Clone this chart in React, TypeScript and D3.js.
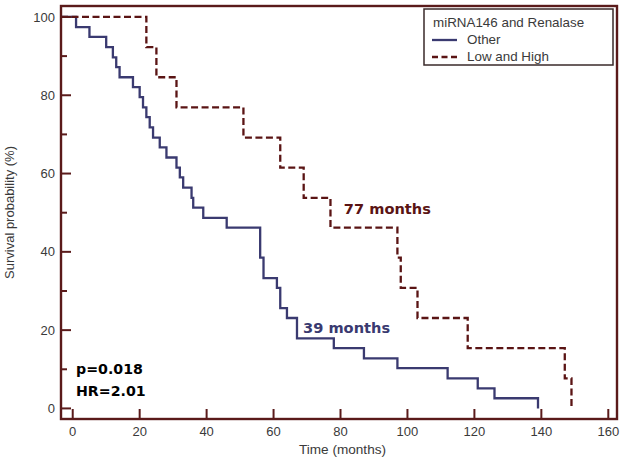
import React from 'react';
import * as d3 from 'd3';

// Kaplan-Meier steps: time of event (months) and survival (%) after it
const otherTimes = [0, 1, 5, 10, 12, 13, 14, 18, 20, 21, 22, 23, 24, 26, 28, 31, 32, 33, 35.5, 36, 39, 46, 56, 57, 61, 62, 64, 67, 78, 87, 97, 112, 121, 126, 139];
const otherSurv = [100, 97.4, 94.9, 92.3, 89.7, 87.2, 84.6, 82.1, 79.5, 76.9, 74.4, 71.8, 69.2, 66.7, 64.1, 61.5, 59.0, 56.4, 53.8, 51.3, 48.7, 46.2, 38.5, 33.3, 30.8, 25.6, 23.1, 17.9, 15.4, 12.8, 10.3, 7.7, 5.1, 2.6, 0];

const lowHighTimes = [0, 22, 25, 31, 51, 62, 69, 77, 97, 98, 103, 118, 147, 149];
const lowHighSurv = [100, 92.3, 84.6, 76.9, 69.2, 61.5, 53.8, 46.2, 38.5, 30.8, 23.1, 15.4, 7.7, 0];

const xTicks = [0, 20, 40, 60, 80, 100, 120, 140, 160];
const yTicks = [0, 20, 40, 60, 80, 100];
const yMinorTicks = [10, 30, 50, 70, 90];

const legendTitle = 'miRNA146 and Renalase';
const seriesNames = ['Other', 'Low and High'];

const App = () => {
  const width = 625;
  const height = 463;
  const margin = { top: 6, right: 8, bottom: 44, left: 61 };
  const font = 'Liberation Sans, Arial, sans-serif';
  const boldFont = 'DejaVu Sans, Verdana, sans-serif';
  const axisColor = '#5a1a1a';
  const blue = '#3a3a70';
  const maroon = '#5a1414';

  const xScale = d3.scaleLinear()
    .domain([-3.5, 162.6])
    .range([margin.left, width - margin.right]);

  const yScale = d3.scaleLinear()
    .domain([-2.7, 102.8])
    .range([height - margin.bottom, margin.top]);

  const x0 = xScale.domain()[0];

  const stepLine = d3.line<[number, number]>()
    .x(d => xScale(d[0]))
    .y(d => yScale(d[1]))
    .curve(d3.curveStepAfter);

  const otherPts: [number, number][] = [[x0, 100], ...otherTimes.map((t, i) => [t, otherSurv[i]] as [number, number])];
  const lowHighPts: [number, number][] = [[x0, 100], ...lowHighTimes.map((t, i) => [t, lowHighSurv[i]] as [number, number])];

  const plotBottom = height - margin.bottom;
  const legendX = 424;
  const legendY = 9;

  return (
    <svg width={width} height={height} style={{ position: 'absolute', left: 0, top: 0, background: '#fff' }}>
      <rect x={0} y={0} width={width} height={height} fill='#fff' />

      {/* curves */}
      <path d={stepLine(otherPts) || ''} fill='none' stroke={blue} strokeWidth={2.3} />
      <path d={stepLine(lowHighPts) || ''} fill='none' stroke={maroon} strokeWidth={2.3} strokeDasharray='7,3.5' />

      {/* frame */}
      <rect x={margin.left} y={margin.top} width={width - margin.left - margin.right} height={plotBottom - margin.top}
        fill='none' stroke={axisColor} strokeWidth={2.4} />

      {/* y ticks */}
      {yTicks.map(v => (
        <g key={'y' + v}>
          <line x1={margin.left} x2={margin.left + 10} y1={yScale(v)} y2={yScale(v)} stroke={axisColor} strokeWidth={2} />
          <text x={margin.left - 6} y={yScale(v)} dy='0.35em' textAnchor='end' fontFamily={font} fontSize={13} fill='#3a3a3a'>{v}</text>
        </g>
      ))}
      {yMinorTicks.map(v => (
        <line key={'ym' + v} x1={margin.left} x2={margin.left + 6} y1={yScale(v)} y2={yScale(v)} stroke={axisColor} strokeWidth={2} />
      ))}

      {/* x ticks */}
      {xTicks.map(v => (
        <g key={'x' + v}>
          <line x1={xScale(v)} x2={xScale(v)} y1={plotBottom} y2={plotBottom - 10} stroke={axisColor} strokeWidth={2} />
          <text x={xScale(v)} y={plotBottom + 17} textAnchor='middle' fontFamily={font} fontSize={13} fill='#3a3a3a'>{v}</text>
        </g>
      ))}

      {/* axis titles */}
      <text x={299} y={454} fontFamily={font} fontSize={12.5} textLength={87} lengthAdjust='spacingAndGlyphs' fill='#3a3a3a'>Time (months)</text>
      <text transform={`translate(14, ${(margin.top + plotBottom) / 2}) rotate(-90)`} textAnchor='middle'
        fontFamily={font} fontSize={13} fill='#3a3a3a'>Survival probability (%)</text>

      {/* annotations */}
      <text x={xScale(81)} y={yScale(49.7)} fontFamily={boldFont} fontSize={14.6} fontWeight='bold' fill={maroon}>77 months</text>
      <text x={xScale(68.8)} y={yScale(19.3)} fontFamily={boldFont} fontSize={14.6} fontWeight='bold' fill={blue}>39 months</text>
      <text x={76} y={374} fontFamily={boldFont} fontSize={14.2} fontWeight='bold' fill='#000'>p=0.018</text>
      <text x={76} y={396} fontFamily={boldFont} fontSize={14.2} fontWeight='bold' fill='#000'>HR=2.01</text>

      {/* legend */}
      <rect x={legendX} y={legendY} width={189} height={56} fill='#fff' stroke='#3a2a2a' strokeWidth={1.5} />
      <text x={legendX + 9} y={legendY + 18} fontFamily={font} fontSize={13.4} fill='#3a3a3a'>{legendTitle}</text>
      <line x1={legendX + 8} x2={legendX + 33} y1={legendY + 31} y2={legendY + 31} stroke={blue} strokeWidth={2.3} />
      <text x={legendX + 43} y={legendY + 35} fontFamily={font} fontSize={13.4} fill='#3a3a3a'>{seriesNames[0]}</text>
      <line x1={legendX + 8} x2={legendX + 33} y1={legendY + 48} y2={legendY + 48} stroke={maroon} strokeWidth={2.3} strokeDasharray='6,3.5' />
      <text x={legendX + 43} y={legendY + 52} fontFamily={font} fontSize={13.4} fill='#3a3a3a'>{seriesNames[1]}</text>
    </svg>
  );
};

export default App;
